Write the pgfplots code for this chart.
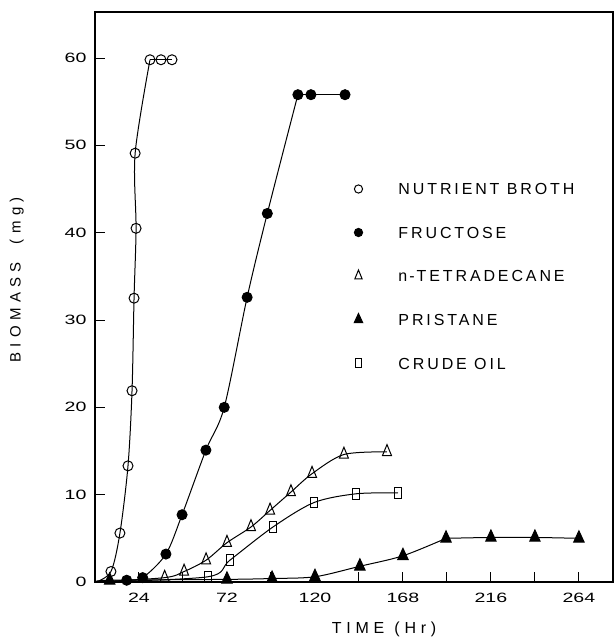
\documentclass[border=0pt]{standalone}
\usepackage{graphicx}
\usepackage{pgfplots}
\pgfplotsset{compat=1.18}
\usepackage{fontspec}
\setmainfont{Liberation Sans}
\newfontfamily\legfont{Liberation Sans}[LetterSpace=18]
\newfontfamily\labfont{Liberation Sans}[LetterSpace=30]
\newfontfamily\ylabfont{Liberation Sans}[LetterSpace=36]
\newfontfamily\tickfont{Liberation Sans}
% wide lettering for the tick numbers
\newcommand\widenum[1]{\scalebox{1.45}[1]{#1}}

% marker styles shared by curves and legend
\pgfplotsset{
  nb/.style={mark=o, mark size=5bp, mark options={fill=white, line width=1bp}},
  fr/.style={mark=*, mark size=5bp},
  td/.style={mark=triangle, mark size=7.3bp, mark options={xscale=0.71, fill=white, line width=1bp}},
  pr/.style={mark=triangle*, mark size=7.5bp, mark options={xscale=0.8}},
  co/.style={mark=square, mark size=5.3bp, mark options={xscale=0.68, fill=white, line width=1bp}},
}

\begin{document}
\begin{tikzpicture}
\begin{axis}[
  scale only axis, width=518bp, height=570bp,
  xmin=0, xmax=282.6, ymin=0, ymax=65.27,
  axis line style={line width=1.2bp},
  tick align=inside, major tick length=10bp,
  tick style={line width=1bp, black},
  xtick={24,48,...,264},
  xticklabels={\widenum{24},,\widenum{72},,\widenum{120},,\widenum{168},,\widenum{216},,\widenum{264}},
  ytick={0,10,...,60},
  yticklabel={\widenum{\pgfmathprintnumber{\tick}}},
  xtick pos=bottom, ytick pos=left,
  /pgf/number format/assume math mode=true,
  tick label style={font=\tickfont\fontsize{13.5bp}{16bp}\selectfont},
  yticklabel style={xshift=-5bp},
  xticklabel style={yshift=-8bp},
  xlabel={TIME\hspace{10bp}(Hr)},
  ylabel={BIOMASS\hspace{18bp}(mg)},
  every axis x label/.style={at={(axis description cs:0.558,-0.0825)}, anchor=center,
    font=\labfont\fontsize{16bp}{19bp}\selectfont},
  every axis y label/.style={at={(axis description cs:-0.151,0.53)}, rotate=90, anchor=center,
    font=\ylabfont\fontsize{15bp}{17bp}\selectfont},
  clip=false,
  legend style={draw=none, fill=none, at={(axis description cs:0.499,0.70)}, anchor=north west,
    row sep=31.5bp, column sep=35bp, inner sep=0pt, outer sep=0pt,
    nodes={inner sep=0pt, text height=12bp, text depth=0bp,
      font=\legfont\fontsize{16bp}{19bp}\selectfont}},
  legend cell align=left,
  legend image code/.code={\path[draw=none, fill=none] (0bp,-5bp) rectangle (10bp,5bp);
    \draw[#1, every mark/.append style={scale=0.82}] plot coordinates {(5bp,0bp)};},
  every axis plot/.append style={black, line width=1bp},
]
% nutrient broth: growth phase, then plateau
\addplot[nb, smooth, forget plot, mark indices={2,3,4,5,6,7,8,9}]
  coordinates {(0.5,0) (8.7,1.2) (13.6,5.6) (18.0,13.3) (20.2,21.9) (21.3,32.5)
               (22.4,40.5) (21.9,49.1) (30.0,59.8)};
\addplot[nb, forget plot, mark indices={2,3}]
  coordinates {(30.0,59.8) (36.0,59.8) (42.0,59.8)};
% fructose
\addplot[fr, smooth, forget plot, mark indices={2,3,4,5,6,7,8,9,10}]
  coordinates {(0.5,0) (17.3,0.2) (26.0,0.5) (38.7,3.2) (47.5,7.7) (60.5,15.1)
               (70.5,20.0) (83.0,32.6) (94.0,42.2) (110.7,55.8)};
\addplot[fr, forget plot, mark indices={2,3}]
  coordinates {(110.7,55.8) (117.8,55.8) (136.4,55.8)};
% n-tetradecane
\addplot[td, smooth, forget plot, mark indices={2,3,4,5,6,7,8,9,10,11}]
  coordinates {(0.5,0) (38.0,0.5) (48.6,1.2) (60.6,2.5) (72.0,4.5) (85.1,6.3)
               (95.5,8.2) (106.9,10.3) (118.4,12.4) (135.8,14.6) (159.3,14.9)};
% crude oil
\addplot[co, smooth, forget plot, mark indices={2,3,4,5,6,7}]
  coordinates {(0.5,0) (61.6,0.6) (73.6,2.5) (97.1,6.3) (119.5,9.1) (142.4,10.1) (165.3,10.2)};
% pristane
\addplot[pr, smooth, forget plot, mark indices={2,3,4,5,6,7,8}]
  coordinates {(0.5,0) (8.0,0.2) (72.0,0.3) (96.6,0.4) (120.0,0.6) (144.5,1.8)
               (168.0,3.0) (191.5,5.0)};
\addplot[pr, smooth, forget plot, mark indices={2,3,4}]
  coordinates {(191.5,5.0) (216.0,5.1) (240.0,5.1) (264.0,5.0)};

\addlegendimage{nb}  \addlegendentry{NUTRIENT BROTH}
\addlegendimage{fr}  \addlegendentry{FRUCTOSE}
\addlegendimage{td}  \addlegendentry{n{\kern2bp}-{\kern2bp}TETRADECANE}
\addlegendimage{pr}  \addlegendentry{PRISTANE}
\addlegendimage{co}  \addlegendentry{CRUDE OIL}
\end{axis}
\pgfresetboundingbox
\useasboundingbox (-95bp,-55bp) rectangle (519bp,582bp);
\end{tikzpicture}
\end{document}
